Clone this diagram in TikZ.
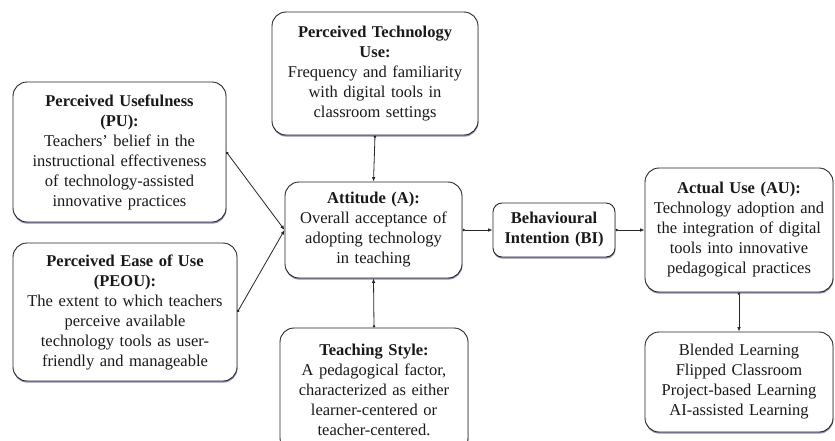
\documentclass[tikz,border=0pt]{standalone}
\usepackage{fontspec}
\setmainfont{Liberation Serif}
\usetikzlibrary{arrows.meta,shadows}
\begin{document}
\begin{tikzpicture}[x=1pt,y=-1pt,
  box/.style={draw=black!85, line width=0.9pt, rounded corners=14pt, fill=white,
    align=center, inner xsep=0pt, inner ysep=0pt, text=black!90,
    font=\fontsize{16.5}{20}\selectfont,
    drop shadow={shadow xshift=0.4pt, shadow yshift=-1.6pt, opacity=0.45, fill=blue!35!black}},
  conn/.style={draw=black!85, line width=0.8pt, {Circle[length=2.6pt]}-{Latex[length=4.5pt,width=3.6pt]}}
]
\useasboundingbox (0,0) rectangle (835,440);
\fill[white] (0,0) rectangle (835,440);
\begin{scope}
\clip (0,0) rectangle (835,440);
\node[box, text width=206pt, minimum height=123pt] (ptu) at (375,73.5)
  {\textbf{Perceived Technology}\\\textbf{Use:}\\Frequency and familiarity\\with digital tools in\\classroom settings};
\node[box, text width=213pt, minimum height=140pt] (pu) at (119.5,152)
  {\textbf{Perceived Usefulness}\\\textbf{(PU):}\\Teachers’ belief in the\\instructional effectiveness\\of technology-assisted\\innovative practices};
\node[box, text width=224pt, minimum height=138pt] (peou) at (125,312)
  {\textbf{Perceived Ease of Use}\\\textbf{(PEOU):}\\The extent to which teachers\\perceive available\\technology tools as user-\\friendly and manageable};
\node[box, text width=177pt, minimum height=96pt] (att) at (373.5,230)
  {\textbf{Attitude (A):}\\Overall acceptance of\\adopting technology\\in teaching};
\node[box, text width=188pt, minimum height=124pt] (ts) at (374,390)
  {\textbf{Teaching Style:}\\A pedagogical factor,\\characterized as either\\learner-centered or\\teacher-centered.};
\node[box, rounded corners=9pt, text width=122pt, minimum height=54pt] (bi) at (554,230)
  {\textbf{Behavioural}\\\textbf{Intention (BI)}};
\node[box, text width=188pt, minimum height=124pt] (au) at (739,230)
  {\textbf{Actual Use (AU):}\\Technology adoption and\\the integration of digital\\tools into innovative\\pedagogical practices};
\node[box, text width=188pt, minimum height=100pt] (bl) at (739,382)
  {Blended Learning\\Flipped Classroom\\Project-based Learning\\AI-assisted Learning};
\draw[conn] (ptu.south) -- (att.north);
\draw[conn] (pu.east) -- (att.west);
\draw[conn] (peou.east) -- (att.west);
\draw[conn] (ts.north) -- (att.south);
\draw[conn] (att.east) -- (bi.west);
\draw[conn] (bi.east) -- (au.west);
\draw[conn] (au.south) -- (bl.north);
\end{scope}
\end{tikzpicture}
\end{document}
